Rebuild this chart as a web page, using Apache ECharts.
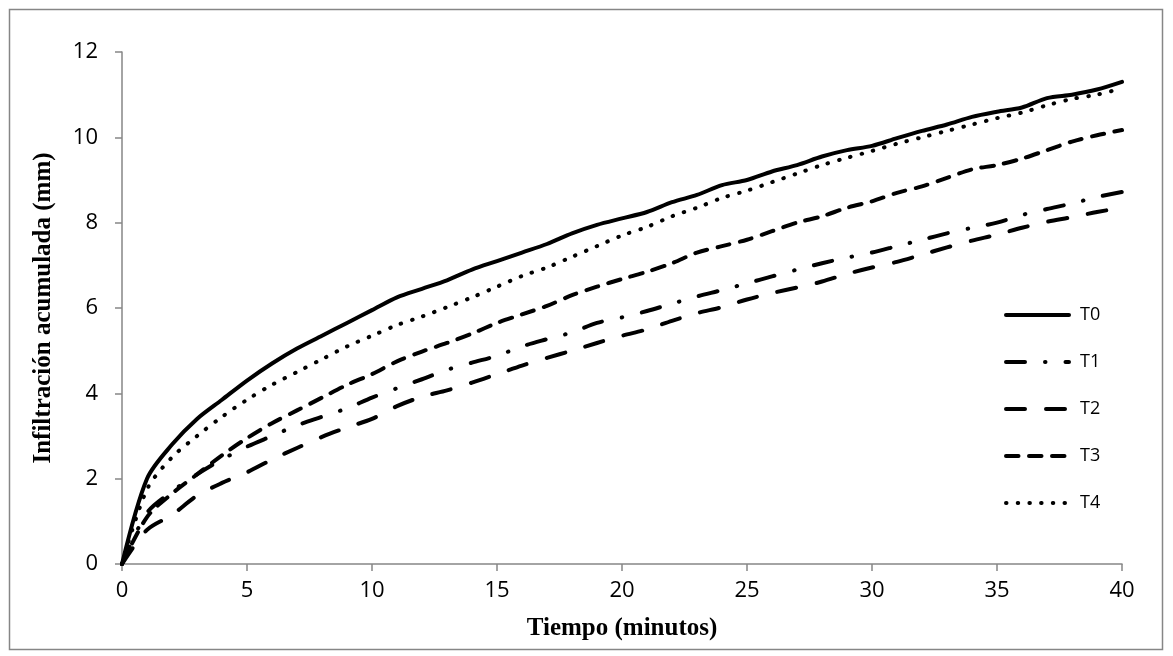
<!DOCTYPE html>
<html>
<head>
<meta charset="utf-8">
<script src="https://cdn.jsdelivr.net/npm/echarts@6/dist/echarts.min.js"></script>
<style>
  html, body { margin: 0; padding: 0; background: #fff; }
  #chart { width: 1173px; height: 656px; }
</style>
</head>
<body>
<div id="chart"></div>
<script>
// minutes 0..40
var tiempo = [];
for (var m = 0; m <= 40; m++) tiempo.push(m);

var t0 = [0, 2.0, 2.8, 3.4, 3.85, 4.3, 4.7, 5.05, 5.35, 5.65, 5.95, 6.25, 6.45, 6.65, 6.9, 7.1, 7.3, 7.5, 7.75, 7.95,
          8.1, 8.25, 8.48, 8.65, 8.88, 9.0, 9.2, 9.35, 9.55, 9.7, 9.8, 9.98, 10.15, 10.3, 10.48, 10.6, 10.7, 10.92, 11.0, 11.12, 11.3];
var t1 = [0, 1.2, 1.7, 2.1, 2.45, 2.75, 3.0, 3.25, 3.45, 3.65, 3.9, 4.12, 4.33, 4.55, 4.72, 4.88, 5.1, 5.27, 5.43, 5.65,
          5.78, 5.93, 6.1, 6.27, 6.42, 6.58, 6.74, 6.9, 7.05, 7.18, 7.3, 7.45, 7.6, 7.75, 7.88, 8.0, 8.18, 8.32, 8.45, 8.6, 8.72];
var t2 = [0, 0.8, 1.15, 1.6, 1.9, 2.15, 2.45, 2.72, 2.98, 3.2, 3.4, 3.7, 3.92, 4.07, 4.25, 4.45, 4.65, 4.83, 5.0, 5.18,
          5.35, 5.5, 5.7, 5.88, 6.02, 6.2, 6.35, 6.48, 6.62, 6.8, 6.95, 7.08, 7.25, 7.42, 7.58, 7.72, 7.88, 8.02, 8.13, 8.25, 8.35];
var t3 = [0, 1.1, 1.65, 2.1, 2.55, 2.95, 3.3, 3.6, 3.9, 4.2, 4.45, 4.75, 4.98, 5.18, 5.4, 5.65, 5.85, 6.05, 6.3, 6.5,
          6.68, 6.85, 7.05, 7.3, 7.45, 7.6, 7.8, 8.0, 8.15, 8.35, 8.5, 8.7, 8.85, 9.05, 9.25, 9.35, 9.5, 9.7, 9.9, 10.05, 10.17];
var t4 = [0, 1.75, 2.5, 3.0, 3.45, 3.85, 4.2, 4.5, 4.8, 5.1, 5.35, 5.6, 5.8, 6.02, 6.25, 6.5, 6.75, 6.95, 7.2, 7.45,
          7.7, 7.9, 8.15, 8.35, 8.58, 8.75, 8.95, 9.15, 9.35, 9.52, 9.68, 9.85, 10.0, 10.15, 10.3, 10.45, 10.58, 10.75, 10.9, 11.0, 11.15];

var nombres = ['T0', 'T1', 'T2', 'T3', 'T4'];
var valores = [t0, t1, t2, t3, t4];
var trazos = ['solid', [19, 20, 0.5, 20], [19, 21], [12.5, 10.5], [0.5, 11.2]];

function pares(vals) {
	var out = [];
	for (var i = 0; i < vals.length; i++) out.push([tiempo[i], vals[i]]);
	return out;
}

var series = [];
for (var i = 0; i < nombres.length; i++) {
	series.push({
		name: nombres[i],
		type: 'line',
		smooth: 0.3,
		showSymbol: false,
		symbol: 'none',
		animation: false,
		itemStyle: { color: '#000' },
		lineStyle: {
			color: '#000',
			width: 4,
			type: trazos[i],
			cap: 'round',
			join: 'round'
		},
		data: pares(valores[i])
	});
}

var chart = echarts.init(document.getElementById('chart'));
chart.setOption({
	animation: false,
	graphic: [{
		type: 'rect',
		shape: { x: 9.5, y: 9.5, width: 1153, height: 640 },
		style: { fill: 'none', stroke: '#868686', lineWidth: 1.5 },
		silent: true
	}],
	grid: { left: 122, right: 51, top: 52, bottom: 92 },
	legend: {
		orient: 'vertical',
		left: 999,
		top: 301,
		itemWidth: 63,
		itemHeight: 14,
		itemGap: 29,
		data: nombres,
		itemStyle: { opacity: 0 },
		lineStyle: { width: 4 },
		textStyle: { fontFamily: 'Open Sans', fontSize: 18, color: '#000', padding: [0, 0, 0, 6] }
	},
	xAxis: {
		type: 'value',
		min: 0,
		max: 40,
		interval: 5,
		name: 'Tiempo (minutos)',
		nameLocation: 'middle',
		nameGap: 52,
		nameTextStyle: { fontFamily: 'Liberation Serif', fontWeight: 'bold', fontSize: 25, color: '#000' },
		axisLine: { lineStyle: { color: '#868686', width: 1.5 } },
		axisTick: { show: true, length: 7, lineStyle: { color: '#868686', width: 1.5 } },
		axisLabel: { fontFamily: 'Open Sans', fontSize: 22, color: '#000', margin: 16 },
		splitLine: { show: false }
	},
	yAxis: {
		type: 'value',
		min: 0,
		max: 12,
		interval: 2,
		name: 'Infiltración acumulada (mm)',
		nameLocation: 'middle',
		nameGap: 66,
		nameTextStyle: { fontFamily: 'Liberation Serif', fontWeight: 'bold', fontSize: 25, color: '#000' },
		axisLine: { show: true, lineStyle: { color: '#868686', width: 1.5 } },
		axisTick: { show: true, length: 7, lineStyle: { color: '#868686', width: 1.5 } },
		axisLabel: { fontFamily: 'Open Sans', fontSize: 22, color: '#000', margin: 24 },
		splitLine: { show: false }
	},
	series: series
});
</script>
</body>
</html>
